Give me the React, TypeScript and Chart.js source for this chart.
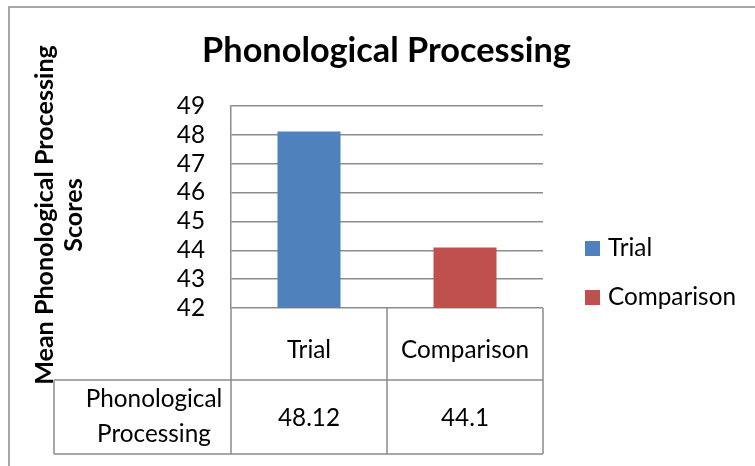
import React, { useEffect, useRef } from "react";
import { Chart, registerables } from "chart.js";

Chart.register(...registerables);

// ---- data ----
const categories = ["Trial", "Comparison"];
const values = [48.12, 44.1];
const valueLabels = ["48.12", "44.1"];
const barColors = ["#4F81BD", "#C0504D"];
const legendLabels = ["Trial", "Comparison"];
const yMin = 42;
const yMax = 49;
const yStep = 1;
const titleText = "Phonological Processing";
const yTitleLines = ["Mean Phonological Processing", "Scores"];
const rowHeaderLines = ["Phonological", "Processing"];

const FONT = "Lato, 'Open Sans', sans-serif";
const GRID = "#8c8c8c";

function fitSize(text: string, weight: string, target: number): number {
  const c = document.createElement("canvas").getContext("2d")!;
  c.font = `${weight} 100px ${FONT}`;
  const w = c.measureText(text).width;
  return (100 * target) / w;
}

export default function App() {
  const ref = useRef<HTMLCanvasElement | null>(null);

  useEffect(() => {
    const canvas = ref.current;
    if (!canvas) return;
    const titleSize = fitSize(titleText, "bold", 369);
    const regSize = fitSize("Comparison", "normal", 128);
    const yTitleSize = fitSize(yTitleLines[0], "bold", 340);

    const overlay = {
      id: "overlay",
      afterDraw(chart: any) {
        const ctx = chart.ctx as CanvasRenderingContext2D;
        const area = chart.chartArea;
        const xs = chart.scales.x;
        ctx.save();
        // outer frame
        ctx.strokeStyle = "#8a8a8a";
        ctx.lineWidth = 1.5;
        ctx.beginPath();
        ctx.moveTo(9, chart.height);
        ctx.lineTo(9, 7);
        ctx.lineTo(chart.width, 7);
        ctx.stroke();

        // title
        ctx.fillStyle = "#000";
        ctx.font = `bold ${titleSize}px ${FONT}`;
        ctx.textAlign = "center";
        ctx.textBaseline = "alphabetic";
        ctx.fillText(titleText, 386.5, 62);

        // y axis title (rotated, two lines)
        ctx.save();
        ctx.translate(0, 215);
        ctx.rotate(-Math.PI / 2);
        ctx.font = `bold ${yTitleSize}px ${FONT}`;
        ctx.textAlign = "center";
        ctx.fillText(yTitleLines[0], 0, 53);
        ctx.fillText(yTitleLines[1], 0, 82);
        ctx.restore();

        // legend
        ctx.font = `${regSize}px ${FONT}`;
        ctx.textAlign = "left";
        const legendBase = [256, 305];
        legendLabels.forEach((lab, i) => {
          ctx.fillStyle = barColors[i];
          ctx.fillRect(585, legendBase[i] - 15, 15, 15);
          ctx.fillStyle = "#000";
          ctx.fillText(lab, 608, legendBase[i]);
        });

        // data table
        const half = (xs.getPixelForValue(1) - xs.getPixelForValue(0)) / 2;
        const edges = [xs.getPixelForValue(0) - half, xs.getPixelForValue(0) + half, xs.getPixelForValue(1) + half];
        const rowTop = area.bottom;
        const rowMid = xs.bottom;
        const rowBot = rowMid + 74;
        const headLeft = 54;
        ctx.strokeStyle = GRID;
        ctx.lineWidth = 1.5;
        ctx.beginPath();
        edges.forEach((ex) => {
          ctx.moveTo(ex, rowTop);
          ctx.lineTo(ex, rowBot);
        });
        ctx.moveTo(headLeft, rowMid);
        ctx.lineTo(headLeft, rowBot);
        ctx.moveTo(headLeft, rowMid);
        ctx.lineTo(edges[2], rowMid);
        ctx.moveTo(headLeft, rowBot);
        ctx.lineTo(edges[2], rowBot);
        ctx.stroke();

        ctx.fillStyle = "#000";
        ctx.font = `${regSize}px ${FONT}`;
        ctx.textAlign = "center";
        ctx.fillText(rowHeaderLines[0], 154, rowMid + 27);
        ctx.fillText(rowHeaderLines[1], 154, rowMid + 62);
        valueLabels.forEach((v, i) => {
          ctx.fillText(v, xs.getPixelForValue(i), rowMid + 46);
        });
        ctx.restore();
      },
    };

    const chart = new Chart(canvas, {
      type: "bar",
      data: {
        labels: categories,
        datasets: [
          {
            label: titleText,
            data: values,
            backgroundColor: barColors,
            borderWidth: 0,
            categoryPercentage: 1,
            barPercentage: 0.404,
          },
        ],
      },
      options: {
        responsive: false,
        animation: false,
        devicePixelRatio: 1,
        layout: { padding: { left: 0, top: 106, right: 212, bottom: 86 } },
        plugins: {
          legend: { display: false },
          title: { display: false },
          tooltip: { enabled: false },
        },
        scales: {
          x: {
            grid: { display: false },
            border: { display: false },
            ticks: { color: "#000", font: { family: FONT, size: regSize }, padding: 20 },
            afterFit: (s: any) => {
              s.height = 72;
            },
          },
          y: {
            min: yMin,
            max: yMax,
            ticks: {
              stepSize: yStep,
              autoSkip: false,
              color: "#000",
              font: { family: FONT, size: regSize },
              padding: 26,
            },
            grid: { color: GRID, lineWidth: 1.5, drawTicks: false },
            border: { display: true, color: GRID, width: 1.5 },
            afterFit: (s: any) => {
              s.width = 231;
            },
          },
        },
      },
      plugins: [overlay],
    });
    return () => chart.destroy();
  }, []);

  return (
    <div style={{ position: "absolute", left: 0, top: 0, width: 755, height: 466, background: "#fff" }}>
      <canvas ref={ref} width={755} height={466} style={{ width: 755, height: 466, display: "block" }} />
    </div>
  );
}
